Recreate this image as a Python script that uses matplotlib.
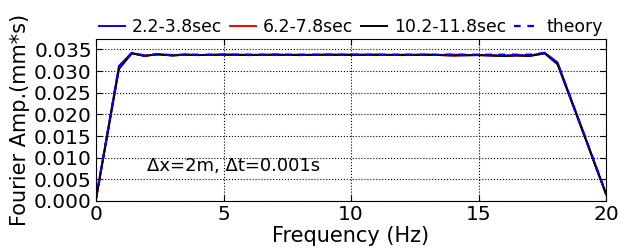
import numpy as np
import matplotlib
matplotlib.use('Agg')
import matplotlib.pyplot as plt

# --- DATA ---
freq = [0.0, 0.45, 0.9, 1.4, 1.9, 2.4, 3.0, 3.5, 4.0, 5.0, 6.0, 7.0, 8.0, 9.0,
        10.0, 11.0, 12.0, 13.0, 14.0, 15.0, 16.0, 16.5, 17.0, 17.6, 18.1,
        18.6, 19.1, 19.6, 20.0]

amp_early = [0.0004, 0.0157, 0.0312, 0.0342, 0.0335, 0.0339, 0.0336, 0.0338,
             0.0337, 0.0338, 0.0337, 0.0338, 0.0337, 0.0338, 0.0338, 0.0337,
             0.0338, 0.0337, 0.0338, 0.0337, 0.0336, 0.0337, 0.0336, 0.0342,
             0.0320, 0.0240, 0.0161, 0.0080, 0.0015]
amp_mid = [0.0005, 0.0156, 0.0306, 0.0341, 0.0336, 0.0338, 0.0337, 0.0338,
           0.0337, 0.0338, 0.0338, 0.0337, 0.0338, 0.0337, 0.0338, 0.0338,
           0.0337, 0.0338, 0.0336, 0.0337, 0.0335, 0.0336, 0.0335, 0.0341,
           0.0316, 0.0238, 0.0160, 0.0080, 0.0017]
amp_late = [0.0005, 0.0155, 0.0305, 0.0341, 0.0335, 0.0339, 0.0336, 0.0338,
            0.0337, 0.0338, 0.0337, 0.0338, 0.0337, 0.0338, 0.0337, 0.0338,
            0.0337, 0.0338, 0.0336, 0.0337, 0.0335, 0.0336, 0.0335, 0.0341,
            0.0316, 0.0238, 0.0159, 0.0079, 0.0017]
amp_theory = [0.0005, 0.0157, 0.0309, 0.0342, 0.0336, 0.0339, 0.0337, 0.0338,
              0.0338, 0.0338, 0.0338, 0.0338, 0.0338, 0.0338, 0.0338, 0.0338,
              0.0338, 0.0338, 0.0338, 0.0338, 0.0338, 0.0338, 0.0338, 0.0342,
              0.0318, 0.0239, 0.0160, 0.0081, 0.0018]

labels = ['2.2-3.8sec', '6.2-7.8sec', '10.2-11.8sec', 'theory']
xticks = [0, 5, 10, 15, 20]
yticks = [0.000, 0.005, 0.010, 0.015, 0.020, 0.025, 0.030, 0.035]

# --- PLOT ---
plt.rcParams['font.family'] = 'DejaVu Sans'
fig = plt.figure(figsize=(6.21, 2.5), dpi=100)
ax = fig.add_axes([96 / 621, 49 / 250, 510 / 621, 161.5 / 250])

h1, = ax.plot(freq, amp_early, '-', color='blue', lw=1.4)
h2, = ax.plot(freq, amp_mid, '-', color='red', lw=1.4)
h3, = ax.plot(freq, amp_late, '-', color='black', lw=1.4)
h4, = ax.plot(freq, amp_theory, '--', color='blue', lw=1.6, dashes=(3, 3))

ax.set_xlim(0, 20)
ax.set_ylim(0, 0.0373)
ax.set_xticks(xticks)
ax.set_yticks(yticks)
ax.set_xticklabels([str(t) for t in xticks])
ax.set_yticklabels([f'{t:.3f}' for t in yticks])
ax.tick_params(direction='in', labelsize=14.5, length=4, pad=3,
               top=True, right=True)
ax.grid(True, color='black', linestyle=':', linewidth=0.8)

ax.set_xlabel('Frequency (Hz)', fontsize=15, labelpad=1)
ax.set_ylabel('Fourier Amp.(mm*s)', fontsize=15, labelpad=3)

ax.text(2.0, 0.0081, '\u0394x=2m, \u0394t=0.001s', fontsize=13, va='center')

fig.legend([h1, h2, h3, h4], labels, loc='center',
           bbox_to_anchor=(351 / 621, 1 - 27 / 250), ncol=4, frameon=False,
           fontsize=12.4, handlelength=1.5, handletextpad=0.4,
           columnspacing=0.47, borderpad=0)

fig.savefig('out.png', dpi=100)
